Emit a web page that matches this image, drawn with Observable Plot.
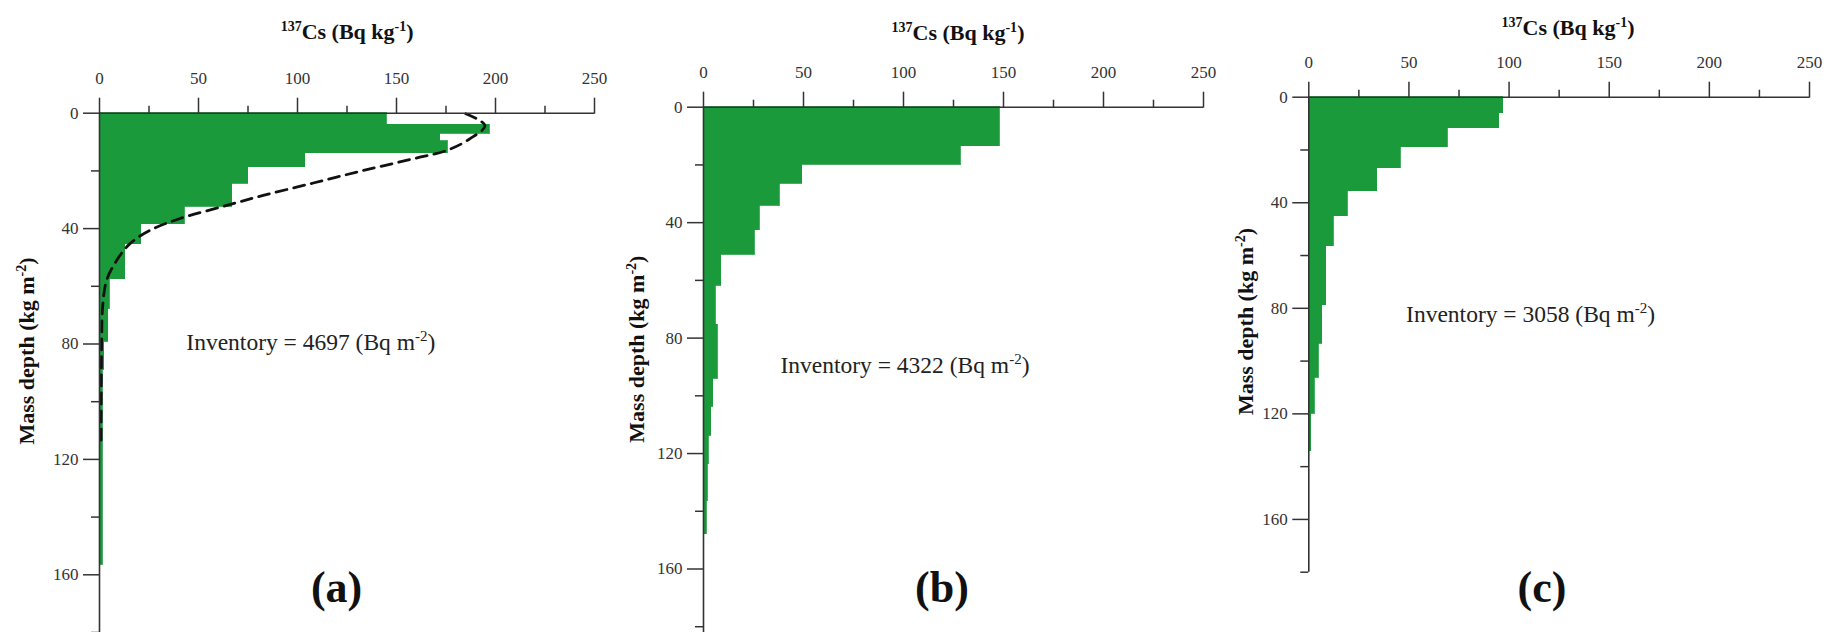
<!DOCTYPE html>
<html>
<head>
<meta charset="utf-8">
<script src="https://cdn.jsdelivr.net/npm/d3@7"></script>
<script src="https://cdn.jsdelivr.net/npm/@observablehq/plot@0.6"></script>
<style>
  body { margin: 0; background: #fff; }
  #wrap { position: relative; width: 1837px; height: 632px; overflow: hidden; background: #fff; }
  #wrap svg { position: absolute; top: 0; overflow: visible; }
</style>
</head>
<body>
<div id="wrap"></div>
<script>
// ---- tick values ----
const xTicksMajor = [0, 50, 100, 150, 200, 250];
const xTicksMinor = [25, 75, 125, 175, 225];
const yTicksMajor = [0, 40, 80, 120, 160];
const yTicksMinor = [20, 60, 100, 140, 180];

// ---- panel (a): layer boundaries (mass depth, kg m-2) and 137Cs (Bq kg-1) ----
const depthA = [0, 4.0, 7.1, 9.7, 13.8, 18.7, 24.4, 32.5, 38.5, 45.4, 57.5, 67.7, 79.2, 89, 156.5];
const csA    = [145, 197, 172, 176, 104, 75, 67, 43, 21, 13, 5.3, 4.5, 2.3, 1.6];
// fitted (dashed) profile in panel (a)
const fitDepthA = [0.2, 4.3, 8.9, 12.9, 15.8, 19.9, 24.2, 28.5, 32.3, 36.5, 40.6, 45.2, 51, 57.9, 67, 78.7, 115];
const fitCsA    = [185, 194.7, 187, 175.4, 158.5, 133, 108, 82.7, 62.5, 40.7, 25.5, 15.4, 8.7, 3.6, 1.6, 1.1, 0.8];

// ---- panel (b) ----
const depthB = [0, 13.5, 20.0, 26.6, 34.1, 42.7, 51.1, 61.8, 75.3, 94.1, 103.7, 113.8, 123.6, 136.3, 147.9];
const csB    = [148, 128.5, 49.3, 38, 28.2, 25.5, 8.8, 6, 7, 4.8, 3.8, 2.7, 2.2, 1.5];

// ---- panel (c) ----
const depthC = [0, 6.1, 11.7, 18.9, 26.9, 35.6, 45.2, 56.5, 78.9, 93.4, 106.3, 120, 134.1];
const csC    = [97, 95, 69.4, 45.8, 34.1, 19.5, 12.5, 8.7, 6.7, 5, 3, 1.2];

// ---- texts ----
const inventories = [4697, 4322, 3058];
const panelLetters = ["(a)", "(b)", "(c)"];
const xTitle = ["137", "Cs (Bq kg", "-1", ")"];
const yTitle = ["Mass depth (kg m", "-2", ")"];

const green = "#1b9a3c";
const serif = "'Liberation Serif','Times New Roman',Times,serif";

const panels = [
  {depth: depthA, cs: csA, fitD: fitDepthA, fitV: fitCsA,
   left: 0, width: 620, mL: 99, mR: 26, mT: 112.7, mB: 0, yMax: 180,
   titleX: 125.3, titleUp: 73.7, yTitleOff: 65.5, yTitleY: 82.6,
   invX: 107, invY: 82.3, letX: 120, letY: 169.6},
  {depth: depthB, cs: csB, fitD: null, fitV: null,
   left: 605, width: 625, mL: 98, mR: 27, mT: 106.7, mB: 0, yMax: 182,
   titleX: 127.5, titleUp: 66.7, yTitleOff: 59, yTitleY: 84,
   invX: 101, invY: 92.3, letX: 119.5, letY: 171.7},
  {depth: depthC, cs: csC, fitD: null, fitV: null,
   left: 1210, width: 627, mL: 98.3, mR: 28, mT: 96.7, mB: 60.3, yMax: 180,
   titleX: 129.7, titleUp: 61.7, yTitleOff: 55.6, yTitleY: 85.2,
   invX: 111, invY: 85.4, letX: 116.7, letY: 191.5}
];

const wrap = document.getElementById("wrap");

panels.forEach((p, i) => {
  const bars = p.cs.map((v, k) => ({v, d0: p.depth[k], d1: p.depth[k + 1]}));
  const marks = [
    Plot.rect(bars, {x1: 0, x2: "v", y1: "d0", y2: "d1", fill: green,
      stroke: green, strokeWidth: 0.8, shapeRendering: "crispEdges"})
  ];
  if (p.fitD) {
    const fit = p.fitD.map((d, k) => ({d, v: p.fitV[k]}));
    marks.push(Plot.line(fit, {x: "v", y: "d", stroke: "#111", strokeWidth: 2.8,
      strokeDasharray: "11,7", curve: "catmull-rom"}));
  }
  marks.push(
    Plot.ruleY([0], {stroke: "#333", strokeWidth: 1.6}),
    Plot.ruleX([0], {stroke: "#333", strokeWidth: 1.6}),
    Plot.axisX({anchor: "top", ticks: xTicksMajor, tickSize: 16, tickPadding: 13,
      fontSize: 17, label: null, strokeWidth: 1.5}),
    Plot.axisX({anchor: "top", ticks: xTicksMinor, tickSize: 8, tickFormat: () => "",
      label: null, strokeWidth: 1.5}),
    Plot.axisY({anchor: "left", ticks: yTicksMajor, tickSize: 16, tickPadding: 5,
      fontSize: 17, label: null, strokeWidth: 1.5}),
    Plot.axisY({anchor: "left", ticks: yTicksMinor, tickSize: 8, tickFormat: () => "",
      label: null, strokeWidth: 1.5})
  );

  const plot = Plot.plot({
    width: p.width,
    height: 632,
    marginLeft: p.mL,
    marginRight: p.mR,
    marginTop: p.mT,
    marginBottom: p.mB,
    x: {domain: [0, 250], label: null},
    y: {domain: [0, p.yMax], reverse: true, label: null},
    style: {fontFamily: serif, color: "#333", background: "transparent", overflow: "visible"},
    marks
  });
  plot.style.left = p.left + "px";
  wrap.appendChild(plot);

  const sx = plot.scale("x"), sy = plot.scale("y");
  const svg = d3.select(plot);

  // x title (top)
  const t = svg.append("text")
    .attr("x", sx.apply(p.titleX))
    .attr("y", sy.apply(0) - p.titleUp)
    .attr("text-anchor", "middle")
    .attr("font-family", serif).attr("font-weight", "bold")
    .attr("font-size", 22).attr("fill", "#111");
  t.append("tspan").attr("font-size", 14).attr("dy", -8).text(xTitle[0]);
  t.append("tspan").attr("dy", 8).text(xTitle[1]);
  t.append("tspan").attr("font-size", 14).attr("dy", -8).text(xTitle[2]);
  t.append("tspan").attr("dy", 8).text(xTitle[3]);

  // y title (rotated)
  const yx = sx.apply(0) - p.yTitleOff, yy = sy.apply(p.yTitleY);
  const yt = svg.append("text")
    .attr("transform", `translate(${yx},${yy}) rotate(-90)`)
    .attr("text-anchor", "middle")
    .attr("font-family", serif).attr("font-weight", "bold")
    .attr("font-size", 22).attr("fill", "#111");
  yt.append("tspan").text(yTitle[0]);
  yt.append("tspan").attr("font-size", 14).attr("dy", -8).text(yTitle[1]);
  yt.append("tspan").attr("dy", 8).text(yTitle[2]);

  // inventory annotation
  const it = svg.append("text")
    .attr("x", sx.apply(p.invX)).attr("y", sy.apply(p.invY))
    .attr("text-anchor", "middle")
    .attr("font-family", serif).attr("font-size", 23.5).attr("fill", "#222");
  it.append("tspan").text(`Inventory = ${inventories[i]} (Bq m`);
  it.append("tspan").attr("font-size", 15).attr("dy", -9).text("-2");
  it.append("tspan").attr("dy", 9).text(")");

  // panel letter
  svg.append("text")
    .attr("x", sx.apply(p.letX)).attr("y", sy.apply(p.letY))
    .attr("text-anchor", "middle")
    .attr("font-family", serif).attr("font-weight", "bold")
    .attr("font-size", 44).attr("fill", "#111")
    .text(panelLetters[i]);
});
</script>
</body>
</html>
